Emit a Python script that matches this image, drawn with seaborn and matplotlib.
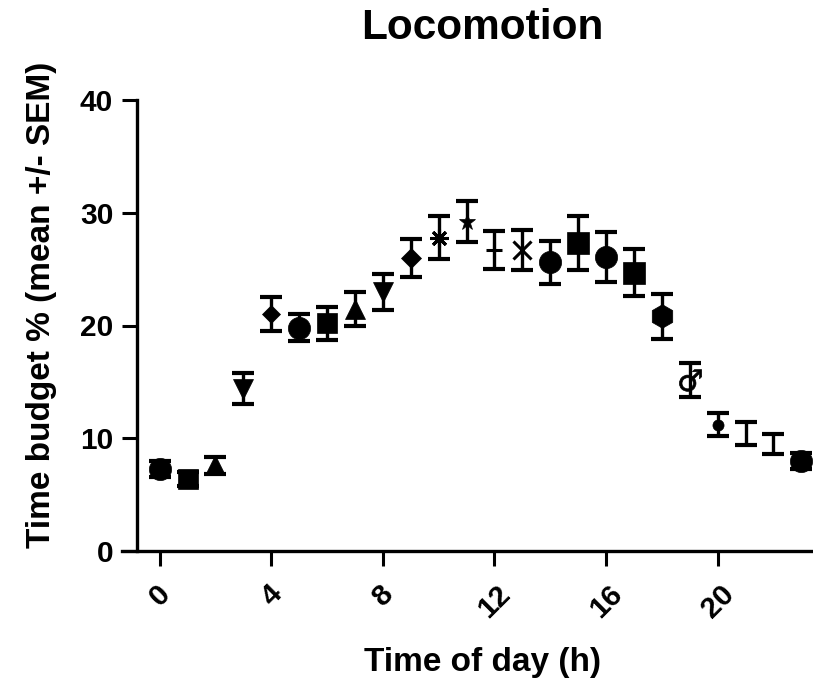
import numpy as np
import pandas as pd
import matplotlib
matplotlib.use("Agg")
import matplotlib.pyplot as plt
import seaborn as sns

# hourly locomotion time budget
hours = list(range(24))
means = [7.3, 6.4, 7.6, 14.4, 21.0, 19.8, 20.2, 21.5, 23.0, 26.0, 27.8, 29.2,
         26.7, 26.7, 25.6, 27.3, 26.1, 24.7, 20.8, 15.2, 11.2, 10.4, 9.5, 8.0]
sems = [0.7, 0.6, 0.75, 1.4, 1.5, 1.2, 1.45, 1.5, 1.6, 1.7, 1.9, 1.8,
        1.7, 1.8, 1.9, 2.4, 2.2, 2.1, 2.0, 1.5, 1.0, 1.0, 0.9, 0.7]
xticks = [0, 4, 8, 12, 16, 20]
yticks = [0, 10, 20, 30, 40]

df = pd.DataFrame({"hour": hours, "mean": means, "sem": sems})

# Prism-like marker per hour (marker, size)
marker_style = {
    0: ("o", 16), 1: ("s", 15), 2: ("^", 15), 3: ("v", 15), 4: ("D", 9),
    5: ("o", 16), 6: ("s", 15), 7: ("^", 15), 8: ("v", 15), 9: ("D", 10),
    10: ((8, 2, 0), 13), 11: ("*", 12), 12: ("+", 12), 13: ("x", 13),
    14: ("o", 16), 15: ("s", 15.5), 16: ("o", 16), 17: ("s", 15.5),
    18: ("h", 17), 19: ("$\u2642$", 16), 20: ("o", 8), 21: (None, 0),
    22: (None, 0), 23: ("o", 16),
}

sns.set_style("ticks")
plt.rcParams["font.family"] = ["Liberation Sans", "DejaVu Sans"]
plt.rcParams["font.weight"] = "bold"
for key in ("text.color", "axes.labelcolor", "xtick.color", "ytick.color",
            "axes.edgecolor"):
    plt.rcParams[key] = "black"

W, H = 813, 691
fig = plt.figure(figsize=(W / 100, H / 100), dpi=100)
ax = fig.add_axes([122 / W, (H - 551) / H, (812 - 122) / W, 451 / H])

# error bars
ax.errorbar(df["hour"], df["mean"], yerr=df["sem"], fmt="none", ecolor="black",
            elinewidth=2.4, capsize=8, capthick=3, zorder=3)

# markers, one per hour
for _, row in df.iterrows():
    m, ms = marker_style[int(row["hour"])]
    if m is None:
        continue
    line_art = m in ("+", "x") or isinstance(m, tuple)
    ax.plot(row["hour"], row["mean"], marker=m, markersize=ms, color="black",
            markeredgewidth=2.2 if line_art else 0.5, linestyle="none", zorder=2)

ax.set_xlim(-1.35, 23.38)
ax.set_ylim(0, 40)
ax.set_xticks(xticks)
ax.set_yticks(yticks)
sns.despine(ax=ax)
ax.spines["left"].set_position(("data", -0.82))
for s in ("left", "bottom"):
    ax.spines[s].set_linewidth(2.4)
    ax.spines[s].set_color("black")

ax.tick_params(axis="both", length=11, width=2.2, labelsize=21.5,
               color="black", labelcolor="black")
ax.tick_params(axis="y", pad=6)
ax.tick_params(axis="x", pad=10)
for lab in ax.get_xticklabels():
    lab.set_rotation(45)
    lab.set_ha("center")
    lab.set_fontweight("bold")
for lab in ax.get_yticklabels():
    lab.set_fontweight("bold")

fig.text(482 / W, 1 - 28 / H, "Locomotion", ha="center", va="center",
         fontsize=30.5, fontweight="bold")
fig.text(482 / W, 1 - 663 / H, "Time of day (h)", ha="center", va="center",
         fontsize=24, fontweight="bold")
fig.text(42 / W, 1 - 305 / H, "Time budget % (mean +/- SEM)", ha="center",
         va="center", rotation=90, fontsize=24, fontweight="bold")

plt.savefig("out.png", dpi=100)
